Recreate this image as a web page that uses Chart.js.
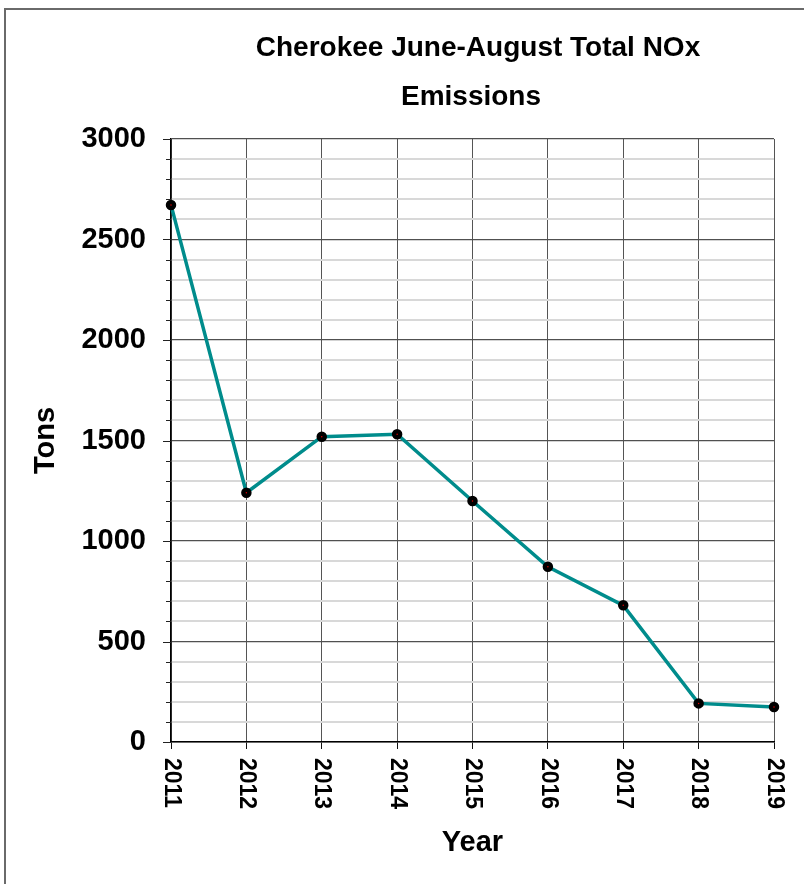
<!DOCTYPE html>
<html><head><meta charset="utf-8">
<script src="https://cdn.jsdelivr.net/npm/chart.js@4.4.0/dist/chart.umd.min.js"></script>
<style>
html,body{margin:0;padding:0;background:#fff;}
#wrap{position:relative;width:804px;height:884px;overflow:hidden;background:#fff;}
#frame{position:absolute;left:4px;top:8px;width:900px;height:1000px;border-top:2px solid #6a6a6a;border-left:2px solid #6a6a6a;}
canvas{position:absolute;left:0;top:0;}
</style></head><body>
<div id="wrap"><div id="frame"></div><canvas id="c" width="804" height="884"></canvas></div>
<script>
const years = ['2011','2012','2013','2014','2015','2016','2017','2018','2019'];
const tons = [2672,1240,1519,1531,1199,872,680,192,174];
const yMajorStep = 500;
const yMinorStep = 100;
const yMax = 3000;
const titleLines = ['Cherokee June-August Total NOx','Emissions'];
const yTitle = 'Tons';
const xTitle = 'Year';

const FONT = '"Liberation Sans", Arial, sans-serif';

const custom = {
  id: 'custom',
  afterDraw(chart) {
    const {ctx, chartArea: a, scales: {x, y}} = chart;
    ctx.save();
    ctx.strokeStyle = '#222';
    ctx.lineWidth = 1;
    y.ticks.forEach(t => {
      const py = Math.round(y.getPixelForValue(t.value)) + 0.5;
      const len = t.value % yMajorStep === 0 ? 8 : 5;
      ctx.beginPath(); ctx.moveTo(a.left - len, py); ctx.lineTo(a.left, py); ctx.stroke();
    });
    ctx.fillStyle = '#000';
    ctx.font = 'bold 23px ' + FONT;
    ctx.textAlign = 'left'; ctx.textBaseline = 'middle';
    x.ticks.forEach((t, i) => {
      const px = x.getPixelForTick(i);
      ctx.save(); ctx.translate(px, a.bottom + 16); ctx.rotate(Math.PI / 2);
      ctx.fillText(years[i], 0, 0); ctx.restore();
    });
    ctx.textAlign = 'center';
    ctx.font = 'bold 28px ' + FONT;
    ctx.fillText(titleLines[0], 478, 48);
    ctx.fillText(titleLines[1], 471, 97);
    ctx.font = 'bold 29px ' + FONT;
    ctx.fillText(xTitle, (a.left + a.right) / 2, 843);
    ctx.save(); ctx.translate(46, (a.top + a.bottom) / 2); ctx.rotate(-Math.PI / 2);
    ctx.fillText(yTitle, 0, 0); ctx.restore();
    ctx.restore();
  }
};

new Chart(document.getElementById('c'), {
  type: 'line',
  data: {
    labels: years,
    datasets: [{
      data: tons,
      borderColor: '#008c8c',
      borderWidth: 3.5,
      tension: 0,
      pointRadius: 3,
      pointBorderWidth: 4.5,
      pointBackgroundColor: '#e00000',
      pointBorderColor: '#000',
      fill: false
    }]
  },
  options: {
    responsive: false,
    animation: false,
    devicePixelRatio: 1,
    layout: {padding: {top: 139, right: 30, bottom: 0, left: 0}},
    plugins: {legend: {display: false}, tooltip: {enabled: false}, title: {display: false}},
    scales: {
      x: {
        type: 'category',
        offset: false,
        grid: {color: '#555', lineWidth: 1, drawTicks: true, tickLength: 7, tickColor: '#111'},
        border: {display: true, color: '#000', width: 1.5},
        ticks: {display: false},
        afterFit(s) { s.height = 142; }
      },
      y: {
        min: 0, max: yMax,
        grid: {
          color: c => (c.tick && c.tick.value % yMajorStep === 0) ? '#505050' : '#d8d8d8',
          lineWidth: c => (c.tick && c.tick.value % yMajorStep === 0) ? 1.2 : 2,
          drawTicks: false
        },
        border: {display: true, color: '#000', width: 1.5},
        ticks: {
          stepSize: yMinorStep,
          autoSkip: false,
          padding: 25,
          color: '#000',
          font: {family: FONT, size: 29, weight: 'bold'},
          callback: v => (v % yMajorStep === 0 ? String(v) : '')
        },
        afterFit(s) { s.width = 171; }
      }
    }
  },
  plugins: [custom]
});
</script>
</body></html>
